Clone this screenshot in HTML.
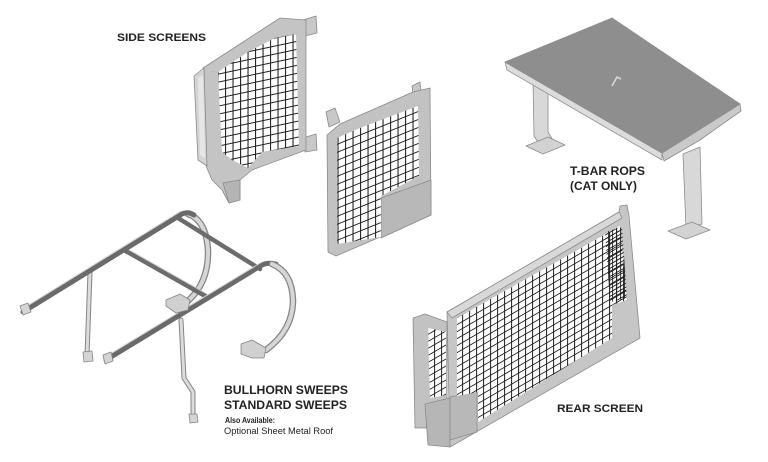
<!DOCTYPE html>
<html><head><meta charset="utf-8"><style>
html,body{margin:0;padding:0;background:#fff;}
svg{display:block;}
text{font-family:"Liberation Sans",sans-serif;fill:#222;}
</style></head><body>
<svg width="768" height="462" viewBox="0 0 768 462" xmlns="http://www.w3.org/2000/svg">
<defs>
<pattern id="m1" width="7.5" height="8" patternUnits="userSpaceOnUse" patternTransform="skewY(-12)">
<path d="M0 0.5H7.5M0.5 0V8" stroke="#1e1e1e" stroke-width="1.1" fill="none"/>
</pattern>
<pattern id="m2" width="7.5" height="8" patternUnits="userSpaceOnUse" patternTransform="skewY(-22)">
<path d="M0 0.5H7.5M0.5 0V8" stroke="#1e1e1e" stroke-width="1.1" fill="none"/>
</pattern>
<pattern id="m3" width="7" height="7" patternUnits="userSpaceOnUse" patternTransform="skewY(-30)">
<path d="M0 0.5H7M0.5 0V7" stroke="#1e1e1e" stroke-width="1" fill="none"/>
</pattern>
<pattern id="m4" width="4" height="4" patternUnits="userSpaceOnUse" patternTransform="skewY(-30)">
<path d="M0 0.5H4M0.5 0V4" stroke="#1e1e1e" stroke-width="0.9" fill="none"/>
</pattern>
</defs>

<!-- LEFT SIDE SCREEN -->
<g stroke="#8a8a8a" stroke-width="0.8" stroke-linejoin="round">
<polygon points="303,20 316,16 317,33 305,36" fill="#c8c8c8"/>
<polygon points="303,138 316,134 317,150 305,152" fill="#c8c8c8"/>
<polygon points="203,68 280,18 306,20 306,150 252,170 240,180 240,200 229,203 222,190 212,180 206,166" fill="#c4c4c4"/>
<polygon points="194,76 204,68 207,166 198,160" fill="#d4d4d4"/>
<polygon points="198,78 203,75 205,158 200,155" fill="#e6e6e6" stroke="none"/>
<polygon points="223,183 240,180 240,200 229,203" fill="#b4b4b4"/>
</g>
<polygon points="218,72 248,52 275,38 296,34 299,146 262,152 248,168 232,160 222,152" fill="#fff"/>
<polygon points="218,72 248,52 275,38 296,34 299,146 262,152 248,168 232,160 222,152" fill="url(#m1)"/>

<!-- RIGHT SIDE SCREEN -->
<g stroke="#8a8a8a" stroke-width="0.8" stroke-linejoin="round">
<polygon points="326,112 335,108 340,122 329,127" fill="#c8c8c8"/>
<polygon points="412,86 420,82 421,92 413,94" fill="#c8c8c8"/>
<polygon points="327,135 340,124 413,92 430,88 431,215 336,256 328,252" fill="#c2c2c2"/>
<polygon points="381,198 431,180 431,215 381,238" fill="#b8b8b8"/>
</g>
<polygon points="337,138 360,128 418,106 419,176 381,196 381,237 337,244" fill="#fff"/>
<polygon points="337,138 360,128 418,106 419,176 381,196 381,237 337,244" fill="url(#m2)"/>

<!-- T-BAR ROPS -->
<g stroke="#8c8c8c" stroke-width="0.8" stroke-linejoin="round">
<polygon points="533,80 548,76 548,132 554,142 540,145 534,136" fill="#d8d8d8"/>
<polygon points="526,146 548,137 565,145 543,154" fill="#d2d2d2"/>
<polygon points="505,62 662,153 662,160 507,70" fill="#dcdcdc"/>
<polygon points="662,153 740,104 741,111 700,140 664,161" fill="#c9c9c9"/>
<polygon points="505,62 612,18 740,104 662,153" fill="#8e8e8e"/>
<polygon points="683,154 700,147 702,224 686,229" fill="#d8d8d8"/>
<polygon points="668,231 692,222 710,230 686,239" fill="#d2d2d2"/>
</g>
<path d="M612,86 L617,77 L621,79" stroke="#d8d8d8" stroke-width="1.6" fill="none"/>

<!-- REAR SCREEN -->
<g stroke="#8a8a8a" stroke-width="0.8" stroke-linejoin="round">
<polygon points="413,318 425,314 447,322 447,400 430,404 426,428 415,428" fill="#c2c2c2"/>
<polygon points="447,312 619,212 620,206 627,205 629,216 640,338 450,447" fill="#c6c6c6"/>
<polygon points="425,404 450,398 450,447 428,445" fill="#b6b6b6"/>
<polygon points="450,397 477,392 477,432 450,440" fill="#b8b8b8"/>
<polygon points="447,312 619,212 622,218 452,318" fill="#d8d8d8"/>
</g>
<polygon points="428,328 446,332 446,395 430,398" fill="#fff"/>
<polygon points="428,328 446,332 446,395 430,398" fill="url(#m3)"/>
<polygon points="457,318 620,226 627,300 612,305 612,338 478,422 478,392 457,396" fill="#fff"/>
<polygon points="457,318 620,226 627,300 612,305 612,338 478,422 478,392 457,396" fill="url(#m3)"/>
<polygon points="605,232 622,227 627,298 610,302" fill="url(#m4)"/>

<!-- BULLHORN SWEEPS -->
<g fill="none" stroke-linecap="round" stroke-linejoin="round">
<path d="M188,214 Q206,220 208,250 Q209,282 188,301" stroke="#858585" stroke-width="6.5"/>
<path d="M188,214 Q206,220 208,250 Q209,282 188,301" stroke="#d6d6d6" stroke-width="4"/>
<path d="M90,272 L87,356" stroke="#858585" stroke-width="5"/>
<path d="M90,272 L87,356" stroke="#dcdcdc" stroke-width="3"/>
<path d="M181,320 L184,378 L193,392 L193,418" stroke="#858585" stroke-width="5"/>
<path d="M181,320 L184,378 L193,392 L193,418" stroke="#dcdcdc" stroke-width="3"/>
<path d="M124,250 L207,297" stroke="#6c6c6c" stroke-width="4.5"/>
<path d="M178,218 L260,269" stroke="#6c6c6c" stroke-width="4.5"/>
<path d="M124,247 L207,294" stroke="#cfcfcf" stroke-width="1"/>
<path d="M23,312 L182,214 Q188,211 194,215" stroke="#6a6a6a" stroke-width="5"/>
<path d="M22,309 L181,211" stroke="#d2d2d2" stroke-width="1"/>
<path d="M106,360 L262,265 Q268,262 276,264" stroke="#6a6a6a" stroke-width="5"/>
<path d="M105,357 L262,262" stroke="#d2d2d2" stroke-width="1"/>
<path d="M272,264 Q292,272 293,300 Q293,330 266,350" stroke="#858585" stroke-width="6.5"/>
<path d="M272,264 Q292,272 293,300 Q293,330 266,350" stroke="#d6d6d6" stroke-width="4"/>
</g>
<g stroke="#858585" stroke-width="0.8" stroke-linejoin="round">
<polygon points="20,306 28,303 31,312 23,315" fill="#d4d4d4"/>
<polygon points="103,355 111,352 113,361 105,364" fill="#d4d4d4"/>
<polygon points="83,352 92,351 93,361 84,362" fill="#d4d4d4"/>
<polygon points="189,414 197,414 198,422 190,423" fill="#d4d4d4"/>
<polygon points="166,300 180,294 190,300 188,310 176,313 166,306" fill="#d0d0d0"/>
<polygon points="241,344 252,340 266,348 264,358 252,358 241,354" fill="#d0d0d0"/>
</g>

<!-- LABELS -->
<text x="117" y="41" font-size="11" font-weight="bold" textLength="89" lengthAdjust="spacingAndGlyphs">SIDE SCREENS</text>
<text x="570" y="175" font-size="11.5" font-weight="bold" textLength="75" lengthAdjust="spacingAndGlyphs">T-BAR ROPS</text>
<text x="570" y="190" font-size="11.5" font-weight="bold" textLength="67" lengthAdjust="spacingAndGlyphs">(CAT ONLY)</text>
<text x="224" y="394" font-size="12" font-weight="bold" textLength="124" lengthAdjust="spacingAndGlyphs">BULLHORN SWEEPS</text>
<text x="224" y="409" font-size="12" font-weight="bold" textLength="123" lengthAdjust="spacingAndGlyphs">STANDARD SWEEPS</text>
<text x="225" y="423" font-size="8.5" font-weight="bold" textLength="50" lengthAdjust="spacingAndGlyphs">Also Available:</text>
<text x="224" y="434" font-size="9" textLength="109" lengthAdjust="spacingAndGlyphs">Optional Sheet Metal Roof</text>
<text x="557" y="412" font-size="11" font-weight="bold" textLength="86" lengthAdjust="spacingAndGlyphs">REAR SCREEN</text>
</svg>
</body></html>
